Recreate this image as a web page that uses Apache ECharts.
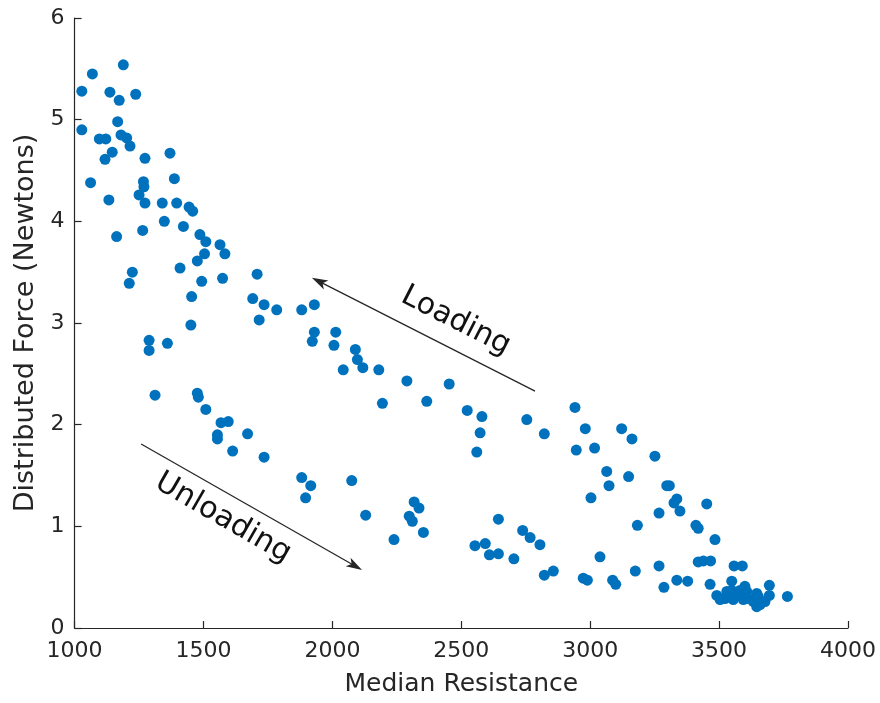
<!DOCTYPE html>
<html>
<head>
<meta charset="utf-8">
<title>Distributed Force vs Median Resistance</title>
<script src="https://cdn.jsdelivr.net/npm/echarts@6/dist/echarts.min.js"></script>
<style>
  html, body { margin: 0; padding: 0; background: #ffffff; }
  #chart { width: 880px; height: 703px; }
</style>
</head>
<body>
<div id="chart"></div>
<script>
// Loading branch: resistance (ohms) and distributed force (N)
const loadingR = [
  1189, 1069, 1028, 1137, 1173, 1237, 1167, 1028, 1096, 1121,
  1180, 1202, 1215, 1146, 1118, 1273, 1370, 1062, 1267, 1269,
  1387, 1250, 1273, 1133, 1340, 1396, 1444, 1458, 1348, 1264,
  1422, 1163, 1486, 1509, 1564, 1583, 1504, 1476, 1409, 1493,
  1574, 1224, 1212, 1454, 1451, 1708, 1691, 1735, 1784, 1716,
  1881, 1930, 1930, 1922, 2013, 2006, 2089, 2097, 2118, 2042,
  2180, 2289, 2453, 2194, 2366, 2523, 2580, 2573, 2560, 2754,
  2822, 2941, 2981, 2946, 3017, 3122, 3162, 3251, 3064, 3073,
  3149, 3003, 3297, 3307, 3336, 3325, 3348, 3267, 3183, 3410,
  3419, 3452, 3484, 3439, 3467, 3419, 3558, 3590, 3267
];
const loadingF = [
  5.54, 5.45, 5.28, 5.27, 5.19, 5.25, 4.98, 4.90, 4.81, 4.81,
  4.85, 4.82, 4.74, 4.68, 4.61, 4.62, 4.67, 4.38, 4.39, 4.34,
  4.42, 4.26, 4.18, 4.21, 4.18, 4.18, 4.14, 4.10, 4.00, 3.91,
  3.95, 3.85, 3.87, 3.80, 3.77, 3.68, 3.68, 3.61, 3.54, 3.41,
  3.44, 3.50, 3.39, 3.26, 2.98, 3.48, 3.24, 3.18, 3.13, 3.03,
  3.13, 3.18, 2.91, 2.82, 2.91, 2.78, 2.74, 2.64, 2.56, 2.54,
  2.54, 2.43, 2.40, 2.21, 2.23, 2.14, 2.08, 1.92, 1.73, 2.05,
  1.91, 2.17, 1.96, 1.75, 1.77, 1.96, 1.86, 1.69, 1.54, 1.40,
  1.49, 1.28, 1.40, 1.40, 1.27, 1.23, 1.15, 1.13, 1.01, 1.01,
  0.98, 1.22, 0.87, 0.66, 0.66, 0.65, 0.61, 0.61, 0.61
];

// Unloading branch
const unloadingR = [
  1289, 1289, 1360, 1312, 1476, 1480, 1509, 1568, 1596, 1554,
  1554, 1671, 1613, 1735, 1881, 1916, 1896, 2075, 2129, 2317,
  2336, 2298, 2310, 2353, 2239, 2644, 2553, 2593, 2609, 2644,
  2704, 2738, 2767, 2805, 2822, 2857, 2973, 2989, 3038, 3087,
  3099, 3175, 3286, 3336, 3378, 3465, 3549, 3600, 3695, 3695,
  3765, 3491, 3504, 3523, 3543, 3555, 3574, 3594, 3613, 3633,
  3646, 3659, 3678, 3652, 3607, 3581, 3530, 3646, 3549
];
const unloadingF = [
  2.83, 2.73, 2.80, 2.29, 2.31, 2.27, 2.15, 2.02, 2.03, 1.90,
  1.86, 1.91, 1.74, 1.68, 1.48, 1.40, 1.28, 1.45, 1.11, 1.24,
  1.18, 1.10, 1.05, 0.94, 0.87, 1.07, 0.81, 0.83, 0.72, 0.73,
  0.68, 0.96, 0.89, 0.82, 0.52, 0.56, 0.49, 0.47, 0.70, 0.47,
  0.43, 0.56, 0.40, 0.47, 0.46, 0.43, 0.46, 0.41, 0.42, 0.32,
  0.31, 0.32, 0.28, 0.29, 0.31, 0.28, 0.32, 0.28, 0.29, 0.26,
  0.21, 0.23, 0.26, 0.31, 0.36, 0.37, 0.36, 0.34, 0.37
];

const xTicks = { min: 1000, max: 4000, step: 500 };
const yTicks = { min: 0, max: 6, step: 1 };

const FONT = 'DejaVu Sans';
const INK = '#262626';
const DOT = '#0072BD';

const pairs = (xs, ys) => xs.map((x, i) => [x, ys[i]]);
const plain = v => String(v);

// arrowhead pointing "up" so ECharts rotates it along the line
const HEAD = 'path://M5,0 L10,16 L5,12 L0,16 Z';

const chart = echarts.init(document.getElementById('chart'), null, { renderer: 'canvas' });

const option = {
  animation: false,
  backgroundColor: '#ffffff',
  textStyle: { fontFamily: FONT, color: INK },
  grid: { left: 74.6, right: 32, top: 18, bottom: 75, containLabel: false },
  xAxis: {
    type: 'value',
    min: xTicks.min, max: xTicks.max, interval: xTicks.step,
    name: 'Median Resistance',
    nameLocation: 'middle',
    nameGap: 44,
    nameTextStyle: { fontFamily: FONT, fontSize: 25, color: INK },
    axisLine: { show: true, onZero: false, lineStyle: { color: INK, width: 1.2 } },
    axisTick: { show: true, inside: true, length: 7, lineStyle: { color: INK, width: 1.2 } },
    axisLabel: { fontFamily: FONT, fontSize: 22, color: INK, margin: 12, formatter: plain },
    splitLine: { show: false }
  },
  yAxis: {
    type: 'value',
    min: yTicks.min, max: yTicks.max, interval: yTicks.step,
    name: 'Distributed Force (Newtons)',
    nameLocation: 'middle',
    nameGap: 35,
    nameTextStyle: { fontFamily: FONT, fontSize: 27, color: INK },
    axisLine: { show: true, onZero: false, lineStyle: { color: INK, width: 1.2 } },
    axisTick: { show: true, inside: true, length: 7, lineStyle: { color: INK, width: 1.2 } },
    axisLabel: { fontFamily: FONT, fontSize: 22, color: INK, margin: 10, formatter: plain },
    splitLine: { show: false }
  },
  series: [
    {
      name: 'Loading',
      type: 'scatter',
      symbol: 'circle',
      symbolSize: 11,
      itemStyle: { color: DOT, opacity: 1 },
      data: pairs(loadingR, loadingF),
      markLine: {
        silent: true,
        symbol: ['none', HEAD],
        symbolSize: [10, 16],
        lineStyle: { color: INK, width: 1.3, type: 'solid' },
        label: { show: false },
        emphasis: { disabled: true },
        data: [
          [{ coord: [2786, 2.33] }, { coord: [1948, 3.41] }]
        ]
      }
    },
    {
      name: 'Unloading',
      type: 'scatter',
      symbol: 'circle',
      symbolSize: 11,
      itemStyle: { color: DOT, opacity: 1 },
      data: pairs(unloadingR, unloadingF),
      markLine: {
        silent: true,
        symbol: ['none', HEAD],
        symbolSize: [10, 16],
        lineStyle: { color: INK, width: 1.3, type: 'solid' },
        label: { show: false },
        emphasis: { disabled: true },
        data: [
          [{ coord: [1258, 1.81] }, { coord: [2088, 0.61] }]
        ]
      }
    }
  ]
};

chart.setOption(option);

// Rotated annotation labels, anchored in data space alongside the arrows
const notes = [
  { text: 'Loading', at: [2479, 3.02], angle: -27 },
  { text: 'Unloading', at: [1576, 1.08], angle: -30 }
];
chart.setOption({
  graphic: notes.map(n => {
    const p = chart.convertToPixel({ xAxisIndex: 0, yAxisIndex: 0 }, n.at);
    return {
      type: 'text',
      x: p[0], y: p[1],
      rotation: n.angle * Math.PI / 180,
      silent: true,
      style: {
        text: n.text,
        fontFamily: FONT,
        fontSize: 30,
        fill: '#111111',
        align: 'center',
        verticalAlign: 'middle'
      }
    };
  })
});
</script>
</body>
</html>
